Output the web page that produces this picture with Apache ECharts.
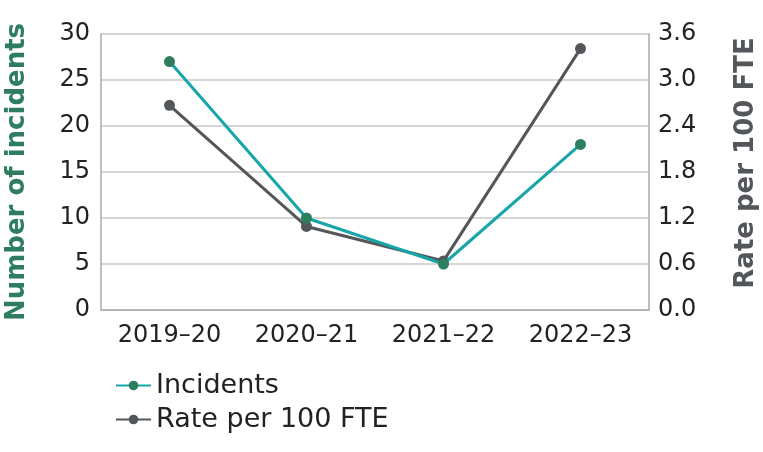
<!DOCTYPE html>
<html><head><meta charset="utf-8">
<script src="https://cdn.jsdelivr.net/npm/echarts@6/dist/echarts.min.js"></script>
<style>html,body{margin:0;padding:0;background:#fff}#c{width:763px;height:452px}</style>
</head><body><div id="c"></div>
<script>
const categories = ['2019–20', '2020–21', '2021–22', '2022–23'];
const incidents = [27, 10, 5, 18];
const ratePer100FTE = [2.67, 1.09, 0.64, 3.41];
const leftTicks = { min: 0, max: 30, interval: 5 };
const rightTicks = { min: 0, max: 3.6, interval: 0.6 };

const font = '"DejaVu Sans", Lato, sans-serif';
const chart = echarts.init(document.getElementById('c'), null, { renderer: 'canvas' });
chart.setOption({
  animation: false,
  textStyle: { fontFamily: font },
  grid: { left: 101, right: 114, top: 34, bottom: 142, containLabel: false, outerBoundsMode: 'none' },
  legend: {
    orient: 'vertical', left: 110, top: 367, itemGap: 7,
    itemWidth: 35, itemHeight: 12,
    textStyle: { fontSize: 27, color: '#222', fontFamily: font },
    data: ['Incidents', 'Rate per 100 FTE']
  },
  xAxis: {
    type: 'category', data: categories, boundaryGap: true,
    axisLine: { show: true, lineStyle: { color: '#aaa', width: 1.5 } },
    axisTick: { show: false },
    axisLabel: { interval: 0, fontSize: 24, color: '#222', margin: 14, fontFamily: font }
  },
  yAxis: [
    {
      type: 'value', min: leftTicks.min, max: leftTicks.max, interval: leftTicks.interval,
      name: 'Number of incidents', nameLocation: 'middle', nameGap: 71, nameRotate: 90,
      nameTextStyle: { fontSize: 26, fontWeight: 'bold', color: '#2e7d5f', fontFamily: font },
      axisLine: { show: true, lineStyle: { color: '#aaa', width: 1.5 } },
      axisTick: { show: false },
      splitLine: { show: true, lineStyle: { color: '#c8c8c8', width: 1.5 } },
      axisLabel: { fontSize: 24, color: '#222', margin: 11, fontFamily: font }
    },
    {
      type: 'value', min: rightTicks.min, max: rightTicks.max, interval: rightTicks.interval,
      position: 'right',
      name: 'Rate per 100 FTE', nameLocation: 'middle', nameGap: 84, nameRotate: 90,
      nameTextStyle: { fontSize: 26, fontWeight: 'bold', color: '#53565a', fontFamily: font,
        padding: [0, 0, 0, 18] },
      axisLine: { show: true, lineStyle: { color: '#aaa', width: 1.5 } },
      axisTick: { show: false },
      splitLine: { show: false },
      axisLabel: { fontSize: 24, color: '#222', margin: 9, fontFamily: font,
        formatter: v => v.toFixed(1) }
    }
  ],
  series: [
    {
      name: 'Incidents', type: 'line', yAxisIndex: 0, data: incidents,
      symbol: 'circle', symbolSize: 11,
      lineStyle: { color: '#16a5a8', width: 3 },
      itemStyle: { color: '#2e7d5f' }
    },
    {
      name: 'Rate per 100 FTE', type: 'line', yAxisIndex: 1, data: ratePer100FTE,
      symbol: 'circle', symbolSize: 11, z: 1,
      lineStyle: { color: '#53565a', width: 3 },
      itemStyle: { color: '#53565a' }
    }
  ]
});
</script></body></html>
